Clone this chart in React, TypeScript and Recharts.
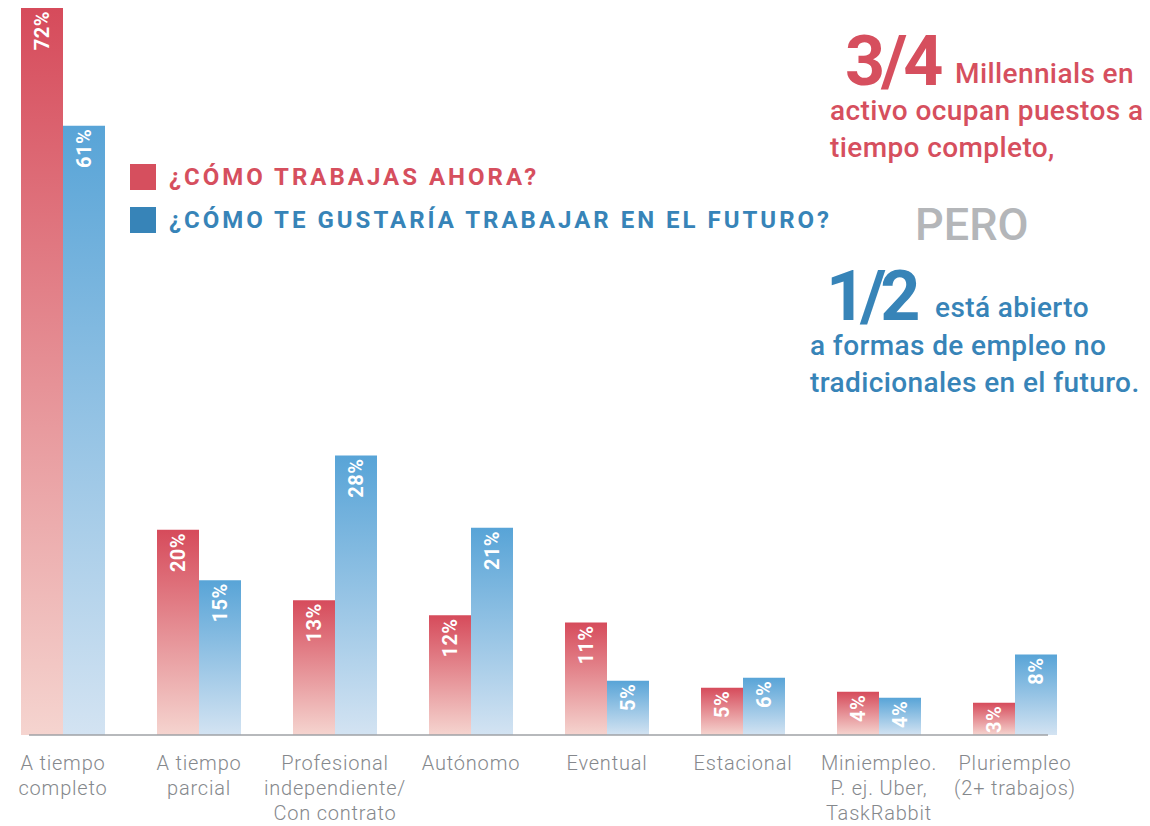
import React from 'react';
import { BarChart, Bar, XAxis, YAxis, Legend, LabelList, ReferenceLine } from 'recharts';

const categories = [
    'A tiempo completo',
    'A tiempo parcial',
    'Profesional independiente/ Con contrato',
    'Autónomo',
    'Eventual',
    'Estacional',
    'Miniempleo. P. ej. Uber, TaskRabbit',
    'Pluriempleo (2+ trabajos)',
];

const categoryLines = [
    ['A tiempo', 'completo'],
    ['A tiempo', 'parcial'],
    ['Profesional', 'independiente/', 'Con contrato'],
    ['Autónomo'],
    ['Eventual'],
    ['Estacional'],
    ['Miniempleo.', 'P. ej. Uber,', 'TaskRabbit'],
    ['Pluriempleo', '(2+ trabajos)'],
];

// labels are the rounded values
const ahora = [72.3, 20.4, 13.4, 11.9, 11.2, 4.7, 4.3, 3.2];
const futuro = [60.6, 15.4, 27.8, 20.6, 5.4, 5.7, 3.7, 8.0];

const legendItems = [
    { key: 'ahora', label: '¿CÓMO TRABAJAS AHORA?', color: '#d64f5e' },
    { key: 'futuro', label: '¿CÓMO TE GUSTARÍA TRABAJAR EN EL FUTURO?', color: '#3784b8' },
];

const data = categories.map((name, i) => ({
    name,
    ahora: ahora[i],
    futuro: futuro[i],
}));

const FONT = 'Roboto, "Noto Sans", sans-serif';
const RED = '#d64f5e';
const BLUE = '#3784b8';

// eslint-disable-next-line @typescript-eslint/no-explicit-any
const CategoryTick = (props: any) => {
    const { x, y, index } = props;
    const lines = categoryLines[index] || [];
    return (
        <text x={x} y={y} textAnchor="middle" fill="#85888c" fontFamily={FONT} fontSize={20} fontWeight={300} letterSpacing={0.8}>
            {lines.map((l, i) => (
                <tspan key={i} x={x} dy={i === 0 ? 35 : 25}>{l}</tspan>
            ))}
        </text>
    );
};

// eslint-disable-next-line @typescript-eslint/no-explicit-any
const BarValue = (props: any) => {
    const { x, y, width, value } = props;
    const cx = x + width / 2;
    const ty = y + 3;
    return (
        <text
            x={cx}
            y={ty}
            transform={`rotate(-90 ${cx} ${ty})`}
            textAnchor="end"
            dominantBaseline="central"
            fill="#ffffff"
            fontFamily={FONT}
            fontSize={20}
            fontWeight={700}
            letterSpacing={0.5}
        >
            {`${Math.round(Number(value))}%`}
        </text>
    );
};

const renderLegend = () => (
    <div style={{ fontFamily: FONT }}>
        {legendItems.map((it) => (
            <div key={it.key} style={{ display: 'flex', alignItems: 'center', height: 26, marginBottom: 17 }}>
                <div style={{ width: 26, height: 26, background: it.color, marginRight: 13 }} />
                <span style={{ color: it.color, fontSize: 24, fontWeight: 700, letterSpacing: 3, whiteSpace: 'nowrap' }}>
                    {it.label}
                </span>
            </div>
        ))}
    </div>
);

// eslint-disable-next-line @typescript-eslint/no-explicit-any
const AxisLine = (props: any) => {
    const { x1, x2, y1 } = props;
    return <line x1={x1 + 34} x2={x2 - 35} y1={y1} y2={y1} stroke="#9fa2a6" strokeWidth={1.5} />;
};

const Annotations = () => (
    <svg width={1150} height={826} style={{ position: 'absolute', left: 0, top: 0, pointerEvents: 'none' }}>
        <g fontFamily={FONT}>
            <text x={845} y={85} fill={RED} fontSize={70} fontWeight={700} letterSpacing={-4}>3/4</text>
            <text x={955} y={83} fill={RED} fontSize={28} fontWeight={500} letterSpacing={0.4}>Millennials en</text>
            <text x={830} y={120} fill={RED} fontSize={28} fontWeight={500} letterSpacing={0.4}>activo ocupan puestos a</text>
            <text x={830} y={157} fill={RED} fontSize={28} fontWeight={500} letterSpacing={0.4}>tiempo completo,</text>
            <text x={915} y={240} fill="#b4b6b9" fontSize={45} fontWeight={500}>PERO</text>
            <text x={826} y={320} fill={BLUE} fontSize={70} fontWeight={700} letterSpacing={-6}>1/2</text>
            <text x={935} y={317} fill={BLUE} fontSize={28} fontWeight={500} letterSpacing={0.4}>está abierto</text>
            <text x={810} y={355} fill={BLUE} fontSize={28} fontWeight={500} letterSpacing={0.4}>a formas de empleo no</text>
            <text x={810} y={392} fill={BLUE} fontSize={28} fontWeight={500} letterSpacing={0.4}>tradicionales en el futuro.</text>
        </g>
    </svg>
);

export default function App() {
    return (
        <div style={{ position: 'absolute', left: 0, top: 0, width: 1150, height: 826, overflow: 'hidden', background: '#fff' }}>
            <div style={{ position: 'absolute', left: -5, top: 0 }}>
                <BarChart
                    width={1155}
                    height={826}
                    data={data}
                    margin={{ top: 8, right: 67, bottom: 0, left: 0 }}
                    barGap={0}
                    barSize={42}
                >
                    <defs>
                        <linearGradient id="gradRed" x1="0" y1="0" x2="0" y2="1">
                            <stop offset="0%" stopColor="#d64b5b" />
                            <stop offset="100%" stopColor="#f5d4cf" />
                        </linearGradient>
                        <linearGradient id="gradBlue" x1="0" y1="0" x2="0" y2="1">
                            <stop offset="0%" stopColor="#58a4d7" />
                            <stop offset="100%" stopColor="#d3e3f2" />
                        </linearGradient>
                    </defs>
                    <XAxis
                        dataKey="name"
                        axisLine={false}
                        tickLine={false}
                        tickSize={0}
                        tickMargin={0}
                        interval={0}
                        tick={<CategoryTick />}
                        height={91}
                    />
                    <YAxis hide domain={[0, 72.3]} />
                    <ReferenceLine y={0} shape={<AxisLine />} ifOverflow="visible" />
                    <Legend
                        layout="horizontal"
                        verticalAlign="middle"
                        align="center"
                        content={renderLegend}
                        wrapperStyle={{ left: 135, top: 164, width: 'auto' }}
                    />
                    <Bar dataKey="ahora" name="¿Cómo trabajas ahora?" fill="url(#gradRed)" isAnimationActive={false}>
                        <LabelList dataKey="ahora" content={<BarValue />} />
                    </Bar>
                    <Bar dataKey="futuro" name="¿Cómo te gustaría trabajar en el futuro?" fill="url(#gradBlue)" isAnimationActive={false}>
                        <LabelList dataKey="futuro" content={<BarValue />} />
                    </Bar>
                </BarChart>
            </div>
            <Annotations />
        </div>
    );
}
